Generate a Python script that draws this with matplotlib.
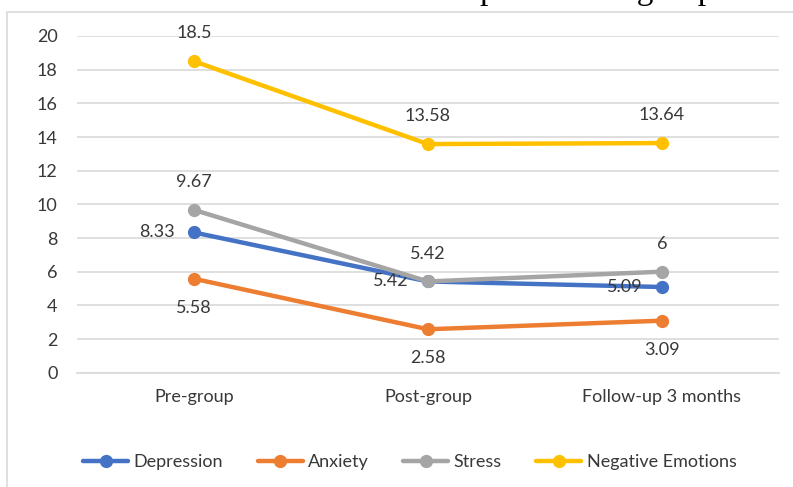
import matplotlib.pyplot as plt
from matplotlib.patches import Rectangle

# data
categories = ["Pre-group", "Post-group", "Follow-up 3 months"]
depression = [8.33, 5.42, 5.09]
anxiety = [5.58, 2.58, 3.09]
stress = [9.67, 5.42, 6]
negative = [18.5, 13.58, 13.64]
series_names = ["Depression", "Anxiety", "Stress", "Negative Emotions"]

colors = ["#4472C4", "#ED7D31", "#A5A5A5", "#FFC000"]
# where the value labels go for each series
label_pos = ["left", "below", "above", "above"]

plt.rcParams['font.family'] = ['Lato', 'DejaVu Sans']
txtcol = "#383838"

W, H = 793, 487
fig = plt.figure(figsize=(W / 100, H / 100), dpi=100)

# chart area border (cropped screenshot)
fig.patches.append(Rectangle((7 / W, -0.1), 1.2, 1 - 12 / H + 0.1, transform=fig.transFigure,
                             fill=False, edgecolor="#D9D9D9", linewidth=1.2))

# caption above the chart, cut off by the crop (only descenders show)
fig.text(480 / W, 1 + 1 / H, "Mean scores of the ", family="Liberation Serif",
         fontsize=24, va="baseline", ha="right", color="black")
fig.text(480 / W, 1 + 1 / H, "pre and the group sessions", family="Liberation Serif",
         fontsize=24, va="baseline", ha="left", color="black")

ax = fig.add_axes([77 / W, (H - 372.7) / H, 702 / W, 336.7 / H])
x = list(range(len(categories)))

all_series = [depression, anxiety, stress, negative]
for vals, name, c, pos in zip(all_series, series_names, colors, label_pos):
    ax.plot(x, vals, color=c, linewidth=3.2, marker="o", markersize=8.5, label=name,
            solid_capstyle="round", zorder=3)
    for xi, v in zip(x, vals):
        txt = "%g" % v
        if pos == "left":
            ax.annotate(txt, (xi, v), xytext=(-14, 0), textcoords="offset points",
                        ha="right", va="center", fontsize=13, color=txtcol)
        elif pos == "below":
            ax.annotate(txt, (xi, v), xytext=(0, -21), textcoords="offset points",
                        ha="center", va="center", fontsize=13, color=txtcol)
        else:
            ax.annotate(txt, (xi, v), xytext=(0, 20), textcoords="offset points",
                        ha="center", va="center", fontsize=13, color=txtcol)

ax.set_xlim(-0.5, 2.5)
ax.set_ylim(0, 20)
ax.set_yticks(range(0, 21, 2))
ax.set_xticks(x)
ax.set_xticklabels(categories)
ax.grid(axis="y", color="#D9D9D9", linewidth=1.2)
ax.set_axisbelow(True)
for s in ["top", "right", "left"]:
    ax.spines[s].set_visible(False)
ax.spines["bottom"].set_color("#D9D9D9")
ax.spines["bottom"].set_linewidth(1.2)
ax.tick_params(axis="both", length=0, labelsize=13, labelcolor=txtcol)
ax.tick_params(axis="y", pad=14)
ax.tick_params(axis="x", pad=12)

fig.legend(loc="center", bbox_to_anchor=(410 / W, 1 - 462 / H), ncol=4, frameon=False,
           fontsize=13, handlelength=2.5, handletextpad=0.3, columnspacing=1.9,
           labelcolor=txtcol)

fig.savefig("out.png", dpi=100)
